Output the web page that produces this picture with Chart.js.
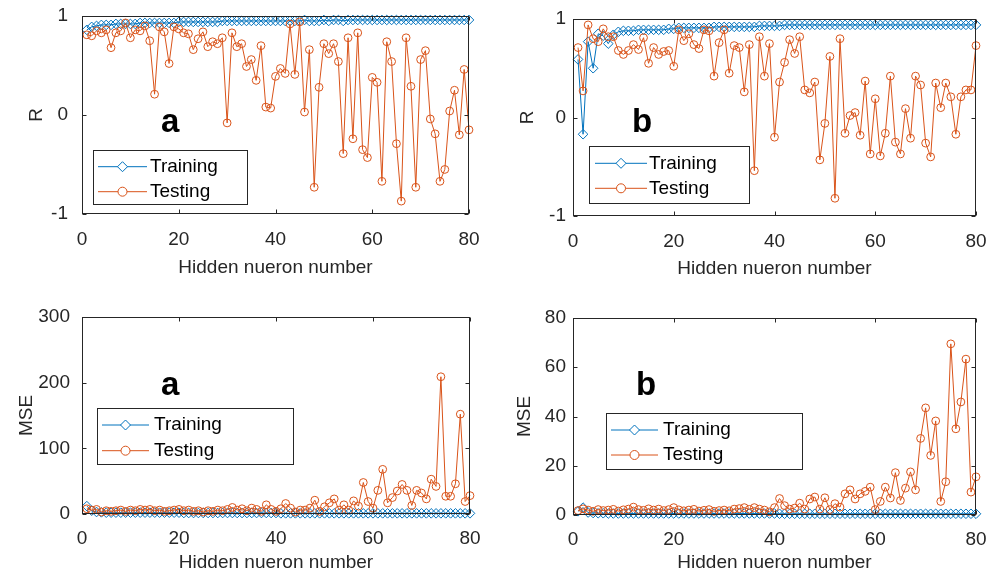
<!DOCTYPE html>
<html>
<head>
<meta charset="utf-8">
<script src="https://cdn.jsdelivr.net/npm/chart.js@4.4.1/dist/chart.umd.min.js"></script>
<style>
html, body { margin: 0; padding: 0; background: #fff; }
#wrap { position: relative; width: 995px; height: 578px; }
#wrap canvas { position: absolute; left: 0; top: 0; }
</style>
</head>
<body>
<div id="wrap">
  <canvas id="rA" width="995" height="578"></canvas>
  <canvas id="rB" width="995" height="578"></canvas>
  <canvas id="mseA" width="995" height="578"></canvas>
  <canvas id="mseB" width="995" height="578"></canvas>
</div>
<script>
// hidden neuron counts (x axis)
const neurons = [1,2,3,4,5,6,7,8,9,10,11,12,13,14,15,16,17,18,19,20,
  21,22,23,24,25,26,27,28,29,30,31,32,33,34,35,36,37,38,39,40,
  41,42,43,44,45,46,47,48,49,50,51,52,53,54,55,56,57,58,59,60,
  61,62,63,64,65,66,67,68,69,70,71,72,73,74,75,76,77,78,79,80];

// panel a, correlation R
const rTrainA = [0.86,0.89,0.90,0.91,0.91,0.91,0.92,0.92,0.92,0.92,
  0.92,0.93,0.93,0.93,0.93,0.93,0.93,0.93,0.93,0.94,
  0.94,0.94,0.94,0.94,0.94,0.94,0.94,0.94,0.95,0.95,
  0.95,0.95,0.95,0.95,0.95,0.95,0.95,0.95,0.95,0.95,
  0.95,0.95,0.95,0.95,0.95,0.96,0.95,0.95,0.95,0.96,
  0.95,0.96,0.96,0.95,0.96,0.96,0.96,0.96,0.96,0.96,
  0.96,0.96,0.96,0.96,0.96,0.96,0.96,0.96,0.96,0.96,
  0.96,0.96,0.96,0.96,0.96,0.96,0.96,0.96,0.96,0.96];
const rTestA = [0.81,0.80,0.85,0.83,0.86,0.68,0.83,0.85,0.93,0.78,
  0.86,0.85,0.90,0.75,0.21,0.89,0.84,0.52,0.89,0.87,
  0.83,0.82,0.66,0.77,0.84,0.69,0.74,0.72,0.78,-0.08,
  0.83,0.69,0.72,0.49,0.56,0.35,0.70,0.08,0.07,0.39,
  0.47,0.42,0.92,0.41,0.94,0.03,0.66,-0.73,0.28,0.72,
  0.62,0.72,0.54,-0.39,0.78,-0.24,0.83,-0.35,-0.43,0.38,
  0.33,-0.67,0.74,0.54,-0.29,-0.87,0.78,0.29,-0.73,0.56,
  0.65,-0.04,-0.19,-0.67,-0.55,0.04,0.25,-0.20,0.46,-0.15];

// panel b, correlation R
const rTrainB = [0.59,-0.17,0.77,0.50,0.85,0.83,0.75,0.84,0.87,0.88,
  0.88,0.88,0.89,0.89,0.89,0.89,0.89,0.89,0.90,0.90,
  0.91,0.91,0.91,0.91,0.91,0.91,0.91,0.92,0.92,0.92,
  0.92,0.92,0.92,0.92,0.92,0.92,0.93,0.93,0.93,0.93,
  0.93,0.94,0.94,0.94,0.94,0.94,0.94,0.94,0.94,0.94,
  0.94,0.94,0.94,0.94,0.94,0.94,0.94,0.94,0.94,0.94,
  0.94,0.94,0.94,0.94,0.94,0.94,0.94,0.94,0.94,0.94,
  0.94,0.94,0.94,0.94,0.94,0.94,0.94,0.94,0.94,0.94];
const rTestB = [0.71,0.27,0.94,0.80,0.77,0.90,0.82,0.82,0.68,0.64,
  0.68,0.74,0.69,0.81,0.55,0.71,0.64,0.67,0.68,0.52,
  0.89,0.78,0.85,0.74,0.70,0.89,0.88,0.42,0.76,0.89,
  0.45,0.73,0.71,0.26,0.74,-0.54,0.82,0.42,0.75,-0.20,
  0.36,0.56,0.79,0.65,0.82,0.28,0.25,0.36,-0.43,-0.06,
  0.62,-0.82,0.80,-0.16,0.02,0.05,-0.18,0.37,-0.37,0.19,
  -0.39,-0.16,0.42,-0.25,-0.37,0.09,-0.21,0.42,0.33,-0.26,
  -0.40,0.35,0.10,0.35,0.21,-0.17,0.21,0.28,0.28,0.73];

// panel a, MSE
const mseTrainA = [12,5,3,2.5,2,2,2,2,2,2,
  2,2,2,2,2,2,2,2,2,2,
  1.5,1.5,1.5,1.5,1.5,1.5,1.5,1.5,1.5,1.5,
  1.5,1.5,1.5,1.5,1.5,1.5,1.5,1.5,1.5,1.5,
  1,1,1,1,1,1,1,1,1,1,
  1,1,1,1,1,1,1,1,1,1,
  1,1,1,1,1,1,1,1,1,1,
  1,1,1,1,1,1,1,1,1,1];
const mseTestA = [8,6,7,3,5,4,5,6,4,6,
  5,7,6,7,5,6,4,5,6,7,
  5,6,4,5,3,5,4,6,5,7,
  10,6,8,5,9,7,4,14,7,4,
  8,16,9,3,6,6,9,21,4,11,
  17,23,6,14,6,20,12,48,19,9,
  36,68,17,25,35,45,36,13,36,32,
  23,53,42,209,27,27,46,152,19,28];

// panel b, MSE
const mseTrainB = [1.5,3.0,1.0,0.8,0.7,0.7,0.6,0.6,0.6,0.6,
  0.6,0.6,0.6,0.6,0.6,0.6,0.6,0.6,0.6,0.6,
  0.6,0.6,0.6,0.6,0.6,0.6,0.6,0.6,0.6,0.6,
  0.6,0.6,0.6,0.6,0.6,0.6,0.6,0.6,0.6,0.6,
  0.5,0.5,0.5,0.5,0.5,0.5,0.5,0.5,0.5,0.5,
  0.5,0.5,0.5,0.5,0.5,0.5,0.5,0.5,0.5,0.5,
  0.5,0.5,0.5,0.5,0.5,0.5,0.5,0.5,0.5,0.5,
  0.5,0.5,0.5,0.5,0.5,0.5,0.5,0.5,0.5,0.5];
const mseTestB = [1.8,2.5,2.0,1.5,2.2,1.8,2.0,2.3,1.6,2.1,
  2.4,3.2,2.2,1.9,2.5,2.0,2.4,1.8,2.2,3.0,
  2.1,1.7,2.0,2.3,1.6,1.9,2.2,1.5,1.8,2.0,
  1.7,2.4,2.6,3.0,2.3,3.0,2.4,2.0,1.3,3.0,
  6.7,3.8,2.4,2.8,4.8,2.4,6.5,7.3,2.4,7.0,
  2.2,4.6,3.2,8.6,10.2,6.5,8.6,9.6,11.3,2.2,
  5.5,11.3,6.9,17.2,5.9,10.9,17.5,10.2,31.1,43.5,
  24.2,38.2,5.5,13.5,69.5,35.0,45.9,63.3,9.3,15.5];

const xTicks = [0, 20, 40, 60, 80];
const rTicks = [-1, 0, 1];
const mseTicksA = [0, 100, 200, 300];
const mseTicksB = [0, 20, 40, 60, 80];

const FONT = '"Liberation Sans", Arial, Helvetica, sans-serif';
const BLUE = '#0072BD';
const ORANGE = '#D95319';
const AXIS = '#262626';

function pts(ys) {
  return neurons.map((n, i) => ({ x: n, y: ys[i] }));
}

function drawDiamond(ctx, x, y, r) {
  ctx.beginPath();
  ctx.moveTo(x, y - r);
  ctx.lineTo(x + r, y);
  ctx.lineTo(x, y + r);
  ctx.lineTo(x - r, y);
  ctx.closePath();
  ctx.stroke();
}

// box, inner ticks, panel letter and legend (MATLAB look)
const panelDecor = {
  id: 'panelDecor',
  afterDraw(chart, args, o) {
    const ctx = chart.ctx;
    const a = chart.chartArea;
    const xs = chart.scales.x, ys = chart.scales.y;
    const L = Math.round(a.left) + 0.5, R = Math.round(a.right) - 0.5;
    const T = Math.round(a.top) + 0.5, B = Math.round(a.bottom) - 0.5;
    ctx.save();
    ctx.strokeStyle = AXIS;
    ctx.lineWidth = 1;
    ctx.strokeRect(L, T, R - L, B - T);
    ctx.beginPath();
    xs.ticks.forEach(t => {
      const px = Math.round(xs.getPixelForValue(t.value)) + 0.5;
      ctx.moveTo(px, B); ctx.lineTo(px, B - 4);
      ctx.moveTo(px, T); ctx.lineTo(px, T + 4);
    });
    ys.ticks.forEach(t => {
      const py = Math.round(ys.getPixelForValue(t.value)) + 0.5;
      ctx.moveTo(L, py); ctx.lineTo(L + 4, py);
      ctx.moveTo(R, py); ctx.lineTo(R - 4, py);
    });
    ctx.stroke();

    // letter
    ctx.fillStyle = '#000';
    ctx.font = 'bold 33px ' + FONT;
    ctx.textBaseline = 'alphabetic';
    ctx.fillText(o.letter, o.lx, o.ly);

    // legend
    const lg = o.legend;
    ctx.fillStyle = '#fff';
    ctx.fillRect(lg.x, lg.y, lg.w, lg.h);
    ctx.strokeStyle = AXIS;
    ctx.strokeRect(lg.x + 0.5, lg.y + 0.5, lg.w, lg.h);
    const mid = (lg.l1 + lg.l2) / 2;
    ctx.lineWidth = 1;
    ctx.strokeStyle = BLUE;
    ctx.beginPath(); ctx.moveTo(lg.l1, lg.r1); ctx.lineTo(lg.l2, lg.r1); ctx.stroke();
    ctx.fillStyle = '#fff';
    ctx.beginPath(); ctx.moveTo(mid, lg.r1 - 5); ctx.lineTo(mid + 5, lg.r1); ctx.lineTo(mid, lg.r1 + 5); ctx.lineTo(mid - 5, lg.r1); ctx.closePath(); ctx.fill();
    drawDiamond(ctx, mid, lg.r1, 5);
    ctx.strokeStyle = ORANGE;
    ctx.beginPath(); ctx.moveTo(lg.l1, lg.r2); ctx.lineTo(lg.l2, lg.r2); ctx.stroke();
    ctx.beginPath(); ctx.arc(mid, lg.r2, 4.5, 0, Math.PI * 2); ctx.fill(); ctx.stroke();
    ctx.fillStyle = '#000';
    ctx.font = '19px ' + FONT;
    ctx.textBaseline = 'middle';
    ctx.fillText('Training', lg.tx, lg.r1);
    ctx.fillText('Testing', lg.tx, lg.r2);
    ctx.restore();
  }
};

function makePanel(id, p) {
  return new Chart(document.getElementById(id), {
    type: 'line',
    data: {
      datasets: [
        {
          label: 'Training', data: pts(p.train), order: 1,
          borderColor: BLUE, borderWidth: 1, backgroundColor: 'rgba(0,0,0,0)',
          pointStyle: 'rectRot', pointRadius: 4.8, pointBorderWidth: 1,
          pointBorderColor: BLUE, pointBackgroundColor: 'rgba(0,0,0,0)',
          tension: 0, clip: false
        },
        {
          label: 'Testing', data: pts(p.test), order: 0,
          borderColor: ORANGE, borderWidth: 1, backgroundColor: 'rgba(0,0,0,0)',
          pointStyle: 'circle', pointRadius: 3.9, pointBorderWidth: 1,
          pointBorderColor: ORANGE, pointBackgroundColor: 'rgba(0,0,0,0)',
          tension: 0, clip: false
        }
      ]
    },
    options: {
      responsive: false,
      animation: false,
      events: [],
      layout: { padding: p.pad, autoPadding: false },
      plugins: {
        legend: { display: false },
        tooltip: { enabled: false },
        panelDecor: p.decor
      },
      scales: {
        x: {
          type: 'linear', min: 0, max: 80,
          afterBuildTicks: s => { s.ticks = xTicks.map(v => ({ value: v })); },
          ticks: { color: AXIS, font: { family: FONT, size: 19 }, padding: p.xTickPad, maxRotation: 0 },
          grid: { display: false, drawTicks: false },
          border: { display: false },
          title: { display: true, text: 'Hidden nueron number', color: AXIS,
                   font: { family: FONT, size: 19 }, padding: { top: 0, bottom: 0 } },
          afterFit: s => { s.height = p.xh; s.paddingLeft = 0; s.paddingRight = 0; }
        },
        y: {
          type: 'linear', min: p.yTicks[0], max: p.yTicks[p.yTicks.length - 1],
          afterBuildTicks: s => { s.ticks = p.yTicks.map(v => ({ value: v })); },
          ticks: { color: AXIS, font: { family: FONT, size: 19 }, padding: p.yTickPad },
          grid: { display: false, drawTicks: false },
          border: { display: false },
          title: { display: true, text: p.yTitle, color: AXIS,
                   font: { family: FONT, size: 19 }, padding: { top: p.yTitlePad, bottom: 0 } },
          afterFit: s => { s.width = p.yw; s.paddingTop = 0; s.paddingBottom = 0; }
        }
      }
    },
    plugins: [panelDecor]
  });
}

makePanel('rA', {
  train: rTrainA, test: rTestA, yTicks: rTicks, yTitle: 'R',
  pad: { left: 22, right: 526, top: 16, bottom: 299 },
  yw: 60, xh: 65, xTickPad: 14, yTickPad: 14, yTitlePad: 3.6,
  decor: { letter: 'a', lx: 161, ly: 132,
    legend: { x: 93, y: 150, w: 154, h: 54, l1: 98, l2: 147, tx: 150, r1: 166.7, r2: 191.7 } }
});
makePanel('rB', {
  train: rTrainB, test: rTestB, yTicks: rTicks, yTitle: 'R',
  pad: { left: 513, right: 19, top: 19, bottom: 298 },
  yw: 60, xh: 64, xTickPad: 14, yTickPad: 7, yTitlePad: 3.6,
  decor: { letter: 'b', lx: 632, ly: 132,
    legend: { x: 589, y: 146, w: 160, h: 57, l1: 595, l2: 647, tx: 649, r1: 163.3, r2: 188.3 } }
});
makePanel('mseA', {
  train: mseTrainA, test: mseTestA, yTicks: mseTicksA, yTitle: 'MSE',
  pad: { left: 12, right: 525, top: 317, bottom: 4 },
  yw: 70, xh: 60, xTickPad: 13, yTickPad: 12, yTitlePad: 3.6,
  decor: { letter: 'a', lx: 161, ly: 395,
    legend: { x: 97, y: 408, w: 196, h: 56, l1: 102, l2: 149, tx: 154, r1: 425, r2: 450.7 } }
});
makePanel('mseB', {
  train: mseTrainB, test: mseTestB, yTicks: mseTicksB, yTitle: 'MSE',
  pad: { left: 503, right: 19, top: 318, bottom: 4 },
  yw: 70, xh: 59, xTickPad: 13, yTickPad: 7, yTitlePad: 10.6,
  decor: { letter: 'b', lx: 636, ly: 395,
    legend: { x: 606, y: 413, w: 196, h: 56, l1: 611, l2: 658, tx: 663, r1: 430, r2: 455 } }
});
</script>
</body>
</html>
